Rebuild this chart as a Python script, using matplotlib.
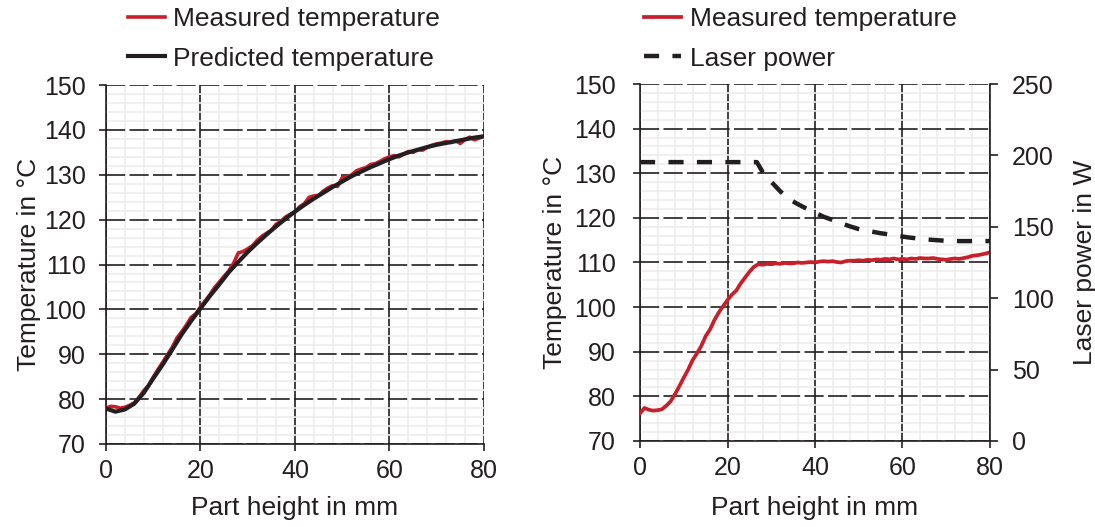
import matplotlib
matplotlib.use('Agg')
import matplotlib.pyplot as plt
from matplotlib.ticker import MultipleLocator

plt.rcParams['font.family'] = ['Liberation Sans', 'DejaVu Sans']

#------------------------------------------------------------------------
# Left panel: measured vs. predicted temperature
#------------------------------------------------------------------------
height_meas = list(range(0, 81))
temp_meas_left = [
    78.0, 78.4, 78.3, 78.0, 78.2, 78.6, 79.2, 80.4, 81.9, 83.0,
    84.9, 86.6, 88.2, 89.9, 91.5, 93.6, 95.0, 96.5, 98.2, 99.0,
    100.6, 101.9, 103.3, 104.9, 106.1, 107.4, 108.6, 110.3, 112.6, 112.9,
    113.5, 114.2, 115.4, 116.3, 117.0, 117.6, 119.0, 119.6, 120.6, 121.2,
    121.7, 122.9, 123.6, 125.0, 125.3, 125.4, 126.4, 127.1, 127.6, 127.4,
    129.4, 129.5, 130.0, 130.9, 131.3, 131.6, 132.3, 132.5, 133.0, 133.6,
    134.0, 134.3, 134.0, 134.6, 135.2, 135.0, 135.6, 135.5, 136.1, 136.6,
    136.9, 137.1, 137.4, 137.2, 137.6, 137.0, 137.9, 138.4, 137.8, 138.2,
    138.6]

height_pred = list(range(0, 81, 2))
temp_pred = [
    77.9, 77.2, 77.7, 79.0, 81.4, 84.6, 87.7, 91.0, 94.4, 97.4,
    100.2, 103.0, 105.6, 108.3, 110.6, 112.8, 114.8, 116.7, 118.5, 120.2,
    121.8, 123.3, 124.7, 126.0, 127.3, 128.5, 129.7, 130.7, 131.7, 132.6,
    133.5, 134.3, 135.0, 135.6, 136.2, 136.7, 137.1, 137.5, 137.9, 138.3,
    138.6]

#------------------------------------------------------------------------
# Right panel: measured temperature with controlled laser power
#------------------------------------------------------------------------
temp_meas_right = [
    76.2, 77.4, 77.0, 76.8, 76.9, 77.1, 77.9, 78.9, 80.5, 82.3,
    84.2, 86.0, 88.1, 89.6, 91.3, 93.5, 95.0, 97.1, 98.8, 100.2,
    101.6, 102.8, 103.7, 105.3, 106.6, 107.9, 109.0, 109.6, 109.5, 109.7,
    109.6, 109.8, 109.7, 109.9, 109.8, 109.8, 110.0, 109.9, 110.0, 110.1,
    110.0, 110.2, 110.3, 110.2, 110.3, 110.1, 110.0, 110.3, 110.4, 110.4,
    110.5, 110.4, 110.6, 110.5, 110.7, 110.6, 110.8, 110.7, 110.9, 110.7,
    110.8, 110.7, 110.9, 110.8, 111.0, 110.9, 110.9, 111.0, 110.8, 110.7,
    110.6, 110.8, 110.9, 110.8, 111.0, 111.2, 111.5, 111.6, 111.8, 112.0,
    112.3]

height_power = [0, 26.7, 28, 30, 32, 34, 36, 38, 40, 42, 44, 46, 48,
                50, 52, 55, 58, 61, 64, 67, 70, 73, 76, 80]
laser_power = [195.3, 195.3, 188.5, 181.5, 175.0, 169.5, 166.0, 162.8,
               159.8, 157.0, 154.8, 152.5, 150.3, 148.4, 147.2, 145.5,
               144.2, 142.7, 141.6, 140.8, 140.2, 140.0, 140.0, 140.0]

RED   = '#C8202B'
BLACK = '#231F20'
FS_TICK  = 18
FS_LABEL = 19

#------------------------------------------------------------------------
def style_axes( ax, ypad ):
    ax.set_xlim(0, 80)
    ax.set_ylim(70, 150)
    ax.xaxis.set_major_locator(MultipleLocator(20))
    ax.xaxis.set_minor_locator(MultipleLocator(4))
    ax.yaxis.set_major_locator(MultipleLocator(10))
    ax.yaxis.set_minor_locator(MultipleLocator(2))
    ax.set_axisbelow(True)
    ax.grid(which='minor', color='#EDEDED', lw=1.2)
    ax.grid(which='major', axis='x', color=BLACK, lw=1.2)
    ax.grid(which='major', axis='y', color=BLACK, lw=1.2,
            linestyle=(0, (11.5, 2.6)))
    for side in ['top', 'right']:
        ax.spines[side].set_visible(False)
    for side in ['left', 'bottom']:
        ax.spines[side].set_color(BLACK)
        ax.spines[side].set_linewidth(1.2)
    ax.tick_params(which='minor', length=0)
    ax.tick_params(axis='x', which='major', length=5, width=1.2,
                   color=BLACK, labelcolor=BLACK, labelsize=FS_TICK, pad=6)
    ax.tick_params(axis='y', which='major', length=5, width=1.2,
                   color=BLACK, labelcolor=BLACK, labelsize=FS_TICK,
                   pad=ypad)
    ax.set_xlabel('Part height in mm', fontsize=FS_LABEL, color=BLACK)
    ax.set_ylabel('Temperature in \u00b0C', fontsize=FS_LABEL, color=BLACK)

#   style_axes()
#------------------------------------------------------------------------

fig = plt.figure(figsize=(10.95, 5.27), dpi=100)
ax1 = fig.add_axes([0.0968, 0.1575, 0.3452, 0.681])
ax2 = fig.add_axes([0.5845, 0.1632, 0.3196, 0.6774])

#----------------------------
# Left: measured / predicted
#----------------------------
style_axes(ax1, ypad=9.5)
ax1.plot(height_meas, temp_meas_left, color=RED, lw=2.6,
         label='Measured temperature', zorder=3)
ax1.plot(height_pred, temp_pred, color=BLACK, lw=3.0,
         label='Predicted temperature', zorder=4)
ax1.xaxis.set_label_coords(0.5, -0.145)
ax1.yaxis.set_label_coords(-0.172, 0.5)
ax1.legend(loc='upper left', bbox_to_anchor=(0.117, 0.986),
           bbox_transform=fig.transFigure, frameon=False,
           fontsize=FS_LABEL, borderpad=0, borderaxespad=0,
           handlelength=1.4, handletextpad=0.3, labelspacing=0.58,
           labelcolor=BLACK)

#----------------------------
# Right: temperature + power
#----------------------------
style_axes(ax2, ypad=12.5)
ln_t, = ax2.plot(height_meas, temp_meas_right, color=RED, lw=2.7,
                 label='Measured temperature', zorder=3)
ax2.xaxis.set_label_coords(0.5, -0.154)
ax2.yaxis.set_label_coords(-0.208, 0.5)

ax3 = ax2.twinx()
ln_p, = ax3.plot(height_power, laser_power, color=BLACK, lw=3.2,
                 linestyle=(0, (3.4, 3.0)), label='Laser power')
ax3.set_ylim(0, 250)
ax3.yaxis.set_major_locator(MultipleLocator(50))
for side in ['top', 'left', 'bottom']:
    ax3.spines[side].set_visible(False)
ax3.spines['right'].set_color(BLACK)
ax3.spines['right'].set_linewidth(1.2)
ax3.tick_params(axis='y', length=6, width=1.2, color=BLACK,
                labelcolor=BLACK, labelsize=FS_TICK, pad=10)
ax3.set_ylabel('Laser power in W', fontsize=FS_LABEL, color=BLACK)
ax3.yaxis.set_label_coords(1.236, 0.5)

ax3.legend(handles=[ln_t, ln_p], loc='upper left',
           bbox_to_anchor=(0.588, 0.986), bbox_transform=fig.transFigure,
           frameon=False, fontsize=FS_LABEL, borderpad=0, borderaxespad=0,
           handlelength=1.4, handletextpad=0.35, labelspacing=0.58,
           labelcolor=BLACK)

plt.savefig('out.png', dpi=100)
plt.close()
